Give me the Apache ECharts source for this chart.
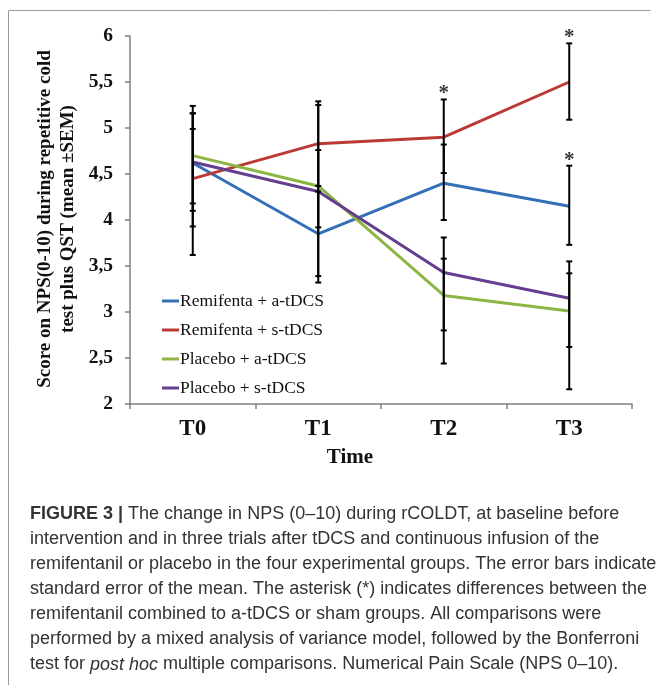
<!DOCTYPE html>
<html>
<head>
<meta charset="utf-8">
<script src="https://cdn.jsdelivr.net/npm/echarts@6/dist/echarts.min.js"></script>
<style>
html,body{margin:0;padding:0;background:#fff;}
#chart{width:659px;height:685px;}
</style>
</head>
<body>
<div id="chart"></div>
<script>
// time points
var categories=["T0","T1","T2","T3"];
var yTickLabels=["2","2,5","3","3,5","4","4,5","5","5,5","6"];

// mean NPS per group
var remiA=[4.62,3.85,4.40,4.15];
var remiS=[4.45,4.83,4.90,5.50];
var placA=[4.70,4.37,3.18,3.01];
var placS=[4.63,4.31,3.43,3.15];

// error bar ends (mean -/+ SEM)
var remiALo=[3.93,3.39,4.00,3.73], remiAHi=[5.16,4.31,4.82,4.59];
var remiSLo=[3.62,4.37,4.51,5.09], remiSHi=[5.24,5.29,5.31,5.92];
var placALo=[4.18,3.92,2.80,2.62], placAHi=[4.99,4.76,3.58,3.42];
var placSLo=[4.10,3.32,2.44,2.16], placSHi=[5.16,5.25,3.81,3.55];

// asterisks (placed over top of error bar)
var starCats=["T2","T3","T3"];
var starVals=[5.31,5.92,4.59];

var names=["Remifenta + a-tDCS","Remifenta + s-tDCS","Placebo + a-tDCS","Placebo + s-tDCS"];
var colors=["#3470b8","#bb3a35","#8db543","#643f8f"];

var serif="'Liberation Serif','Times New Roman',serif";
var sans="'Liberation Sans',Arial,sans-serif";

function errData(lo,hi){
    var a=[];
    for(var i=0;i<lo.length;i++){
        a.push([i,lo[i],hi[i]]);
    }
    return a;
}
function renderErr(params,api){
    var p1=api.coord([api.value(0),api.value(1)]);
    var p2=api.coord([api.value(0),api.value(2)]);
    var w=3;
    var st={stroke:"#000",lineWidth:2};
    return {
        type:"group",
        children:[
            {type:"line",shape:{x1:p1[0],y1:p1[1],x2:p2[0],y2:p2[1]},style:st},
            {type:"line",shape:{x1:p1[0]-w,y1:p1[1],x2:p1[0]+w,y2:p1[1]},style:st},
            {type:"line",shape:{x1:p2[0]-w,y1:p2[1],x2:p2[0]+w,y2:p2[1]},style:st}
        ]
    };
}

var means=[remiA,remiS,placA,placS];
var los=[remiALo,remiSLo,placALo,placSLo];
var his=[remiAHi,remiSHi,placAHi,placSHi];

var series=[];
for(var k=0;k<4;k++){
    series.push({
        name:names[k],
        type:"line",
        data:means[k],
        symbol:"none",
        z:3,
        lineStyle:{color:colors[k],width:3},
        itemStyle:{color:colors[k]}
    });
}
for(var k=0;k<4;k++){
    series.push({
        type:"custom",
        renderItem:renderErr,
        data:errData(los[k],his[k]),
        z:4,
        silent:true
    });
}
var stars=[];
for(var i=0;i<starCats.length;i++){
    stars.push([starCats[i],starVals[i]]);
}
series.push({
    type:"scatter",
    data:stars,
    symbolSize:0,
    z:5,
    label:{
        show:true,
        position:"top",
        distance:-5,
        formatter:"*",
        fontFamily:serif,
        fontWeight:"bold",
        fontSize:21,
        color:"#000"
    }
});

var chart=echarts.init(document.getElementById("chart"));
var option={
    animation:false,
    backgroundColor:"#fff",
    grid:{left:130,right:27,top:36,bottom:281,containLabel:false},
    legend:{
        orient:"vertical",
        left:157,
        top:287,
        itemWidth:17,
        itemHeight:3,
        itemGap:11,
        icon:"rect",
        data:names,
        textStyle:{fontFamily:serif,fontSize:17.5,color:"#111",padding:[0,0,0,-4]}
    },
    title:{
        left:25,
        top:497,
        text:"{b|FIGURE 3 |} The change in NPS (0\u201310) during rCOLDT, at baseline before\n"+
             "intervention and in three trials after tDCS and continuous infusion of the\n"+
             "remifentanil or placebo in the four experimental groups. The error bars indicate\n"+
             "standard error of the mean. The asterisk (*) indicates differences between the\n"+
             "remifentanil combined to a-tDCS or sham groups. All comparisons were\n"+
             "performed by a mixed analysis of variance model, followed by the Bonferroni\n"+
             "test for {i|post hoc} multiple comparisons. Numerical Pain Scale (NPS 0\u201310).",
        textStyle:{
            fontFamily:sans,fontSize:18,fontWeight:"normal",color:"#333",lineHeight:25,
            rich:{
                b:{fontFamily:sans,fontSize:18,fontWeight:"bold",color:"#333",lineHeight:25},
                i:{fontFamily:sans,fontSize:18,fontStyle:"italic",color:"#333",lineHeight:25}
            }
        }
    },
    xAxis:{
        type:"category",
        data:categories,
        boundaryGap:true,
        axisLine:{lineStyle:{color:"#808080",width:1.5}},
        axisTick:{show:true,length:5,lineStyle:{color:"#808080",width:1.5}},
        axisLabel:{margin:14,fontFamily:serif,fontWeight:"bold",fontSize:23,color:"#111"}
    },
    yAxis:{
        type:"value",
        min:2,
        max:6,
        interval:0.5,
        axisLine:{show:true,lineStyle:{color:"#808080",width:1.5}},
        axisTick:{show:true,length:5,inside:false,lineStyle:{color:"#808080",width:1.5}},
        splitLine:{show:false},
        axisLabel:{
            margin:17,
            fontFamily:serif,fontWeight:"bold",fontSize:19.5,color:"#111",
            formatter:function(v){
                return yTickLabels[Math.round((v-2)/0.5)];
            }
        }
    },
    graphic:[
        {
            type:"text",
            x:57,
            y:219,
            rotation:Math.PI/2,
            style:{
                text:"Score on NPS(0-10) during repetitive cold\ntest plus QST (mean \u00b1SEM)",
                fontFamily:serif,
                fontWeight:"bold",
                fontSize:19,
                lineHeight:23,
                fill:"#111",
                align:"center",
                verticalAlign:"middle"
            }
        },
        {
            type:"text",
            x:350,
            y:458,
            style:{
                text:"Time",
                fontFamily:serif,
                fontWeight:"bold",
                fontSize:21,
                fill:"#111",
                align:"center",
                verticalAlign:"middle"
            }
        },
        {
            type:"polyline",
            shape:{points:[[8.5,685],[8.5,10.5],[650.5,10.5]]},
            style:{stroke:"#9a9a9a",lineWidth:1,fill:null}
        }
    ],
    series:series
};
chart.setOption(option);
</script>
</body>
</html>
